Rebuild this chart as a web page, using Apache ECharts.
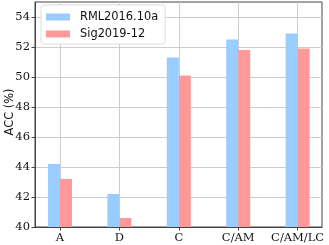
<!DOCTYPE html>
<html>
<head>
<meta charset="utf-8">
<script src="https://cdn.jsdelivr.net/npm/echarts@6/dist/echarts.min.js"></script>
<style>html,body{margin:0;padding:0;background:#fff;}#c{width:329px;height:245px;}</style>
</head>
<body>
<div id="c"></div>
<script>
var categories = ['A', 'D', 'C', 'C/AM', 'C/AM/LC'];
var seriesNames = ['RML2016.10a', 'Sig2019-12'];
var rmlValues = [44.2, 42.2, 51.3, 52.5, 52.9];
var sigValues = [43.2, 40.6, 50.1, 51.8, 51.9];
var yTicks = [40, 42, 44, 46, 48, 50, 52, 54];
var yAxisTitle = 'ACC (%)';
var colors = ['#99ccff', '#ff9999'];

var positions = categories.map(function (c, i) { return i; });
function pairs(vals) { return vals.map(function (v, i) { return [i, v]; }); }

var BAR_W = 12;
function makeRender(side, color) {
  return function (params, api) {
    var x = api.value(0), y = api.value(1);
    var top = api.coord([x, y]);
    var base = api.coord([x, 40]);
    var left = side < 0 ? top[0] - BAR_W : top[0];
    return {
      type: 'rect',
      shape: {x: left, y: top[1], width: BAR_W, height: base[1] - top[1]},
      style: {fill: color}
    };
  };
}

var chart = echarts.init(document.getElementById('c'), null, {renderer: 'canvas'});
var serif = 'DejaVu Serif';
var sans = 'DejaVu Sans';
chart.setOption({
  animation: false,
  backgroundColor: '#fff',
  grid: {left: 35, right: 7, top: 2, bottom: 18, containLabel: false, outerBoundsMode: 'none',
    show: true, borderColor: '#444', borderWidth: 1, backgroundColor: 'transparent'},
  legend: {
    orient: 'vertical', left: 41, top: 5,
    data: seriesNames,
    itemWidth: 24, itemHeight: 7, itemGap: 3,
    backgroundColor: '#fff', borderColor: '#ddd', borderWidth: 1, borderRadius: 3,
    padding: [5, 7, 3, 5],
    icon: 'rect',
    textStyle: {fontFamily: sans, fontSize: 11.4, color: '#111', lineHeight: 14, padding: [0, 0, 0, 5]}
  },
  graphic: [{
    type: 'text', x: 10, y: 112, rotation: Math.PI / 2, silent: true,
    style: {text: yAxisTitle, font: '11.4px "DejaVu Sans"', fill: '#111', align: 'center', verticalAlign: 'middle'}
  }],
  xAxis: {
    type: 'value', min: -0.42, max: 4.41,
    splitLine: {show: false},
    axisLine: {show: true, onZero: false, lineStyle: {color: '#444', width: 1}},
    axisTick: {show: true, customValues: positions, length: 3.5, lineStyle: {color: '#444'}},
    axisLabel: {customValues: positions, margin: 5, fontFamily: serif, fontSize: 11.5, color: '#111',
      formatter: function (v) { return categories[Math.round(v)] || ''; }}
  },
  yAxis: {
    type: 'value', min: 40, max: 55, interval: 2,
    splitLine: {show: true, lineStyle: {color: '#cccccc', width: 1}},
    axisLine: {show: true, onZero: false, lineStyle: {color: '#444', width: 1}},
    axisTick: {show: true, customValues: yTicks, length: 3.5, lineStyle: {color: '#444'}},
    axisLabel: {customValues: yTicks, margin: 5, fontFamily: serif, fontSize: 11.5, color: '#111'}
  },
  series: [
    {
      name: seriesNames[0], type: 'custom', data: pairs(rmlValues),
      encode: {x: 0, y: 1}, z: 3,
      itemStyle: {color: colors[0]},
      renderItem: makeRender(-1, colors[0]),
      markLine: {
        silent: true, symbol: 'none', z: 1, animation: false,
        label: {show: false},
        lineStyle: {color: '#cccccc', width: 1, type: 'solid'},
        data: positions.map(function (p) { return {xAxis: p}; })
      }
    },
    {
      name: seriesNames[1], type: 'custom', data: pairs(sigValues),
      encode: {x: 0, y: 1}, z: 3,
      itemStyle: {color: colors[1]},
      renderItem: makeRender(1, colors[1])
    }
  ]
});
</script>
</body>
</html>
